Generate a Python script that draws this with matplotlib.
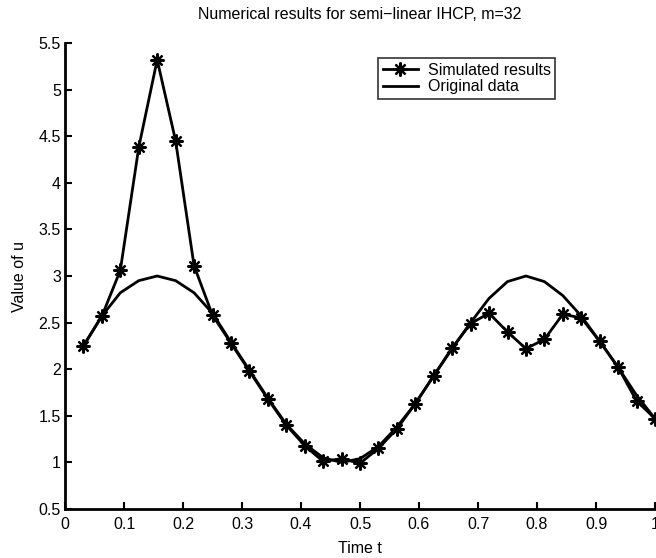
import numpy as np
import matplotlib.pyplot as plt

plt.rcParams['font.family'] = ['Liberation Sans', 'DejaVu Sans']

# t = k/32, k = 1..32
t = np.arange(1, 33) / 32.0

simulated = [2.25, 2.57, 3.06, 4.38, 5.32, 4.45, 3.11, 2.58,
             2.28, 1.98, 1.68, 1.40, 1.18, 1.01, 1.04, 0.99,
             1.15, 1.36, 1.63, 1.93, 2.23, 2.49, 2.60, 2.40,
             2.22, 2.32, 2.59, 2.55, 2.30, 2.02, 1.66, 1.47]

original = [2.25, 2.57, 2.82, 2.95, 3.00, 2.95, 2.82, 2.60,
            2.29, 1.99, 1.69, 1.41, 1.20, 1.05, 1.00, 1.04,
            1.17, 1.38, 1.63, 1.93, 2.22, 2.50, 2.76, 2.94,
            3.00, 2.94, 2.79, 2.57, 2.30, 2.02, 1.72, 1.47]

xticks = [0, 0.1, 0.2, 0.3, 0.4, 0.5, 0.6, 0.7, 0.8, 0.9, 1]
yticks = [0.5, 1, 1.5, 2, 2.5, 3, 3.5, 4, 4.5, 5, 5.5]

fig = plt.figure(figsize=(6.56, 5.58), dpi=100)
ax = fig.add_axes([65/656, 1 - 509/558, 590/656, 466/558])

ax.plot(t, simulated, color='k', lw=2, marker=(8, 2, 0), ms=10, mew=1.6,
        label='Simulated results', clip_on=False)
ax.plot(t, original, color='k', lw=2, label='Original data', clip_on=False)

ax.set_xlim(0, 1)
ax.set_ylim(0.5, 5.5)
ax.set_xticks(xticks)
ax.set_xticklabels(['0', '0.1', '0.2', '0.3', '0.4', '0.5', '0.6', '0.7', '0.8', '0.9', '1'])
ax.set_yticks(yticks)
ax.set_yticklabels(['0.5', '1', '1.5', '2', '2.5', '3', '3.5', '4', '4.5', '5', '5.5'])
ax.tick_params(direction='in', length=5, width=1.5, labelsize=11.5)
ax.tick_params(axis='x', pad=6)
ax.tick_params(axis='y', pad=3)

ax.spines['top'].set_visible(False)
ax.spines['right'].set_visible(False)
ax.spines['left'].set_linewidth(2)
ax.spines['bottom'].set_linewidth(2)

ax.set_xlabel('Time t', fontsize=11.5, labelpad=6)
ax.set_ylabel('Value of u', fontsize=11.5, labelpad=8)
ax.set_title('Numerical results for semi\u2212linear IHCP, m=32', fontsize=11.5, pad=17)

leg = ax.legend(loc='upper left', bbox_to_anchor=(313/590, 1 - 15/466), fontsize=11.5,
                frameon=True, fancybox=False, edgecolor='k', handlelength=2.2,
                borderpad=0.3, labelspacing=0.1, handletextpad=0.6, borderaxespad=0)
leg.get_frame().set_linewidth(1.2)

fig.savefig('out.png', dpi=100)
